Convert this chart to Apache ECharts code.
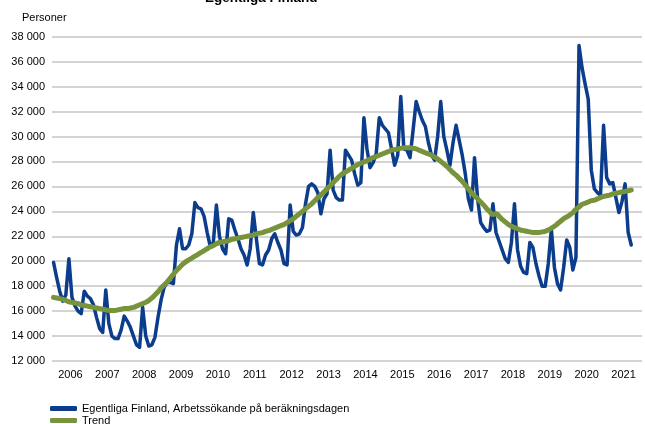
<!DOCTYPE html>
<html>
<head>
<meta charset="utf-8">
<script src="https://cdn.jsdelivr.net/npm/echarts@6/dist/echarts.min.js"></script>
<style>html,body{margin:0;padding:0;background:#fff}#c{width:645px;height:424px}</style>
</head>
<body>
<div id="c"></div>
<script>
// Monthly data, Jan 2006 - Sep 2021
const yearLabels = ['2006','2007','2008','2009','2010','2011','2012','2013','2014','2015','2016','2017','2018','2019','2020','2021'];
const seriesNames = ['Egentliga Finland, Arbetssökande på beräkningsdagen', 'Trend'];
const jobseekers = [
  19900,18700,17600,16800,17300,20200,17100,16400,16000,15800,17600,17200, // 2006
  17000,16500,15500,14600,14300,17700,15000,14000,13800,13800,14500,15600, // 2007
  15200,14700,14000,13300,13100,16300,14000,13200,13300,13900,15500,16900, // 2008
  17900,18300,18300,18200,21300,22600,21000,21000,21300,22200,24700,24300, // 2009
  24200,23600,22300,21200,21500,24500,22000,21000,20600,23400,23300,22500, // 2010
  21800,21000,20500,19700,21000,23900,21800,19800,19700,20500,20900,21800, // 2011
  22200,21500,20900,19800,19700,24500,22400,22100,22200,22700,24600,26000, // 2012
  26200,26000,25500,23800,25000,25400,28900,25700,25100,24900,24900,28900, // 2013
  28500,28100,27000,26100,26300,31500,29000,27500,27900,28600,31500,30900, // 2014
  30600,30300,29000,27700,28500,33200,29000,28900,28300,30500,32800,32000, // 2015
  31300,30800,29500,28500,28100,30000,32800,30000,28900,27700,29500,30900, // 2016
  29700,28500,27000,25000,24100,28300,25000,23100,22700,22400,22500,24600, // 2017
  22300,21600,20900,20200,19900,21500,24600,20900,19600,19100,19000,21500, // 2018
  21100,19800,18800,18000,18000,19800,22600,19500,18200,17700,19500,21700, // 2019
  21100,19300,20300,37300,35500,34200,33000,27300,25800,25500,25300,30900, // 2020
  26700,26200,26300,25100,23900,24800,26200,22300,21300                    // 2021
];
const trend = [
  17100,17050,17000,16950,16850,16750,16700,16650,16600,16500,16450,16400,
  16350,16300,16250,16200,16150,16100,16050,16050,16050,16100,16150,16200,
  16200,16250,16300,16400,16500,16600,16700,16850,17050,17300,17550,17850,
  18100,18350,18650,18950,19250,19500,19750,19950,20100,20250,20400,20550,
  20700,20850,21000,21150,21250,21400,21500,21550,21600,21650,21750,21800,
  21850,21900,21950,22000,22050,22100,22200,22250,22300,22400,22450,22550,
  22650,22750,22850,22950,23100,23250,23400,23600,23800,24000,24200,24400,
  24600,24850,25100,25300,25550,25800,26050,26300,26550,26800,27000,27150,
  27300,27450,27600,27750,27850,27950,28050,28200,28300,28400,28500,28600,
  28700,28800,28900,28950,29000,29050,29100,29100,29100,29050,29000,28900,
  28800,28700,28600,28500,28350,28200,28000,27800,27600,27350,27100,26900,
  26650,26400,26100,25800,25500,25250,25000,24750,24500,24200,23950,23750,
  23800,23600,23350,23150,22950,22800,22700,22600,22500,22450,22400,22350,
  22300,22300,22300,22350,22400,22500,22650,22800,23000,23200,23400,23550,
  23700,23900,24150,24350,24550,24650,24750,24850,24900,25000,25100,25200,
  25250,25300,25400,25450,25500,25550,25600,25650,25700
];
const yTicks = { min: 12000, max: 38000, step: 2000 };

const fmt = v => String(v).replace(/\B(?=(\d{3})+(?!\d))/g, '\u00a0');
const toPts = arr => arr.map((v, i) => [i + 0.5, v]);
const FONT = '"Liberation Sans", Arial, sans-serif';
const BLUE = '#0b3d8c', GREEN = '#77933c';

const legendBase = {
  orient: 'vertical', left: 50, itemGap: 0,
  itemWidth: 27, itemHeight: 5, icon: 'roundRect', padding: 0,
  textStyle: { fontSize: 11, color: '#000', fontFamily: FONT }
};

const chart = echarts.init(document.getElementById('c'), null, { renderer: 'canvas' });
chart.setOption({
  animation: false,
  backgroundColor: '#fff',
  textStyle: { fontFamily: FONT },
  graphic: [
    { type: 'text', left: 205, top: -9, style: { text: 'Egentliga Finland', font: 'bold 13.5px ' + FONT, fill: '#000' } },
    { type: 'text', left: 22, top: 12, style: { text: 'Personer', font: '11px ' + FONT, fill: '#000' } }
  ],
  grid: { left: 52, right: 0, top: 36.7, bottom: 63, containLabel: false },
  xAxis: {
    type: 'value', min: 0, max: yearLabels.length * 12, interval: 6,
    axisLine: { show: false }, axisTick: { show: false }, splitLine: { show: false },
    axisLabel: {
      margin: 8, color: '#000', fontSize: 11, fontFamily: FONT,
      formatter: v => (v % 12 === 6) ? yearLabels[(v - 6) / 12] : ''
    }
  },
  yAxis: {
    type: 'value', min: yTicks.min, max: yTicks.max, interval: yTicks.step,
    axisLine: { show: false }, axisTick: { show: false },
    splitLine: { lineStyle: { color: '#c6c6c6', width: 1.5 } },
    axisLabel: { margin: 7, color: '#000', fontSize: 11, fontFamily: FONT, formatter: fmt }
  },
  legend: [
    Object.assign({}, legendBase, { top: 403, data: [seriesNames[0]] }),
    Object.assign({}, legendBase, { top: 415, data: [seriesNames[1]] })
  ],
  series: [
    { name: seriesNames[0], type: 'line', data: toPts(jobseekers), showSymbol: false, symbol: 'none',
      lineStyle: { color: BLUE, width: 3.5, join: 'round', cap: 'round' }, itemStyle: { color: BLUE } },
    { name: seriesNames[1], type: 'line', data: toPts(trend), showSymbol: false, symbol: 'none', smooth: true,
      lineStyle: { color: GREEN, width: 5, cap: 'round' }, itemStyle: { color: GREEN } }
  ]
});
</script>
</body>
</html>
